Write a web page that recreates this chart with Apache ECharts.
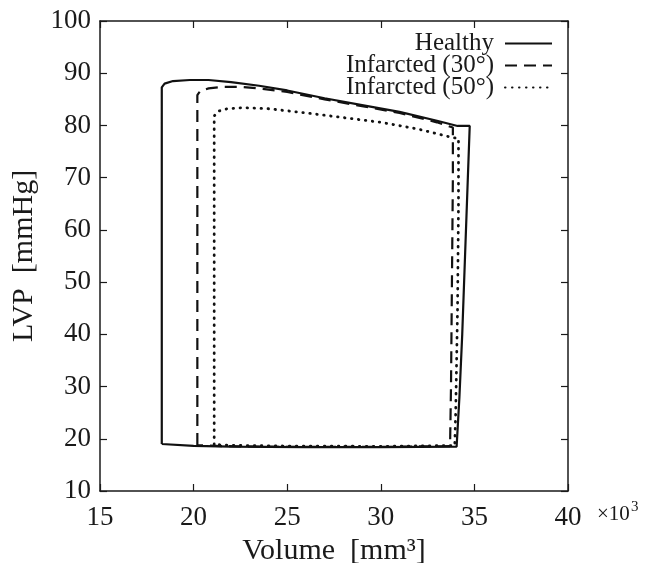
<!DOCTYPE html>
<html>
<head>
<meta charset="utf-8">
<script src="https://cdn.jsdelivr.net/npm/echarts@6/dist/echarts.min.js"></script>
<style>
  html, body { margin: 0; padding: 0; background: #fff; }
  #chart { width: 650px; height: 563px; }
</style>
</head>
<body>
<div id="chart"></div>
<script>
// volume in 10^3 mm^3, pressure in mmHg
var seriesNames = ['Healthy', 'Infarcted (30°)', 'Infarcted (50°)'];

var healthy = [
  [18.3, 19.0], [18.3, 87.3], [18.45, 88.0], [18.9, 88.5], [19.8, 88.7], [20.8, 88.7],
  [22.0, 88.3], [23.5, 87.6], [25.0, 86.7], [27.0, 85.2], [29.0, 83.9], [31.0, 82.6],
  [33.0, 80.9], [34.1, 79.9], [34.75, 79.9], [34.65, 70.0], [34.5, 55.0], [34.35, 40.0],
  [34.2, 28.0], [34.05, 18.5], [30.0, 18.4], [26.0, 18.4], [22.0, 18.5], [20.0, 18.65],
  [18.3, 19.0]
];

var infarct30 = [
  [20.2, 18.8], [20.2, 85.8], [20.35, 86.6], [20.8, 87.1], [21.6, 87.4], [22.5, 87.4],
  [23.5, 87.1], [25.0, 86.4], [27.0, 85.0], [29.0, 83.7], [31.0, 82.4], [33.0, 80.6],
  [33.85, 79.6], [33.85, 70.0], [33.8, 50.0], [33.75, 30.0], [33.7, 18.6], [30.0, 18.45],
  [25.0, 18.45], [21.5, 18.6], [20.2, 18.8]
];

var infarct50 = [
  [21.1, 18.9], [21.1, 81.8], [21.3, 82.7], [21.8, 83.2], [22.6, 83.4], [24.0, 83.2],
  [26.0, 82.4], [28.0, 81.5], [30.0, 80.6], [32.0, 79.3], [33.8, 77.7], [34.15, 77.5],
  [34.15, 65.0], [34.1, 45.0], [34.0, 25.0], [33.95, 18.7], [30.0, 18.55], [25.0, 18.6],
  [22.0, 18.75], [21.1, 18.9]
];

var xMin = 15, xMax = 40, xStep = 5;
var yMin = 10, yMax = 100, yStep = 10;

var serif = 'Liberation Serif';
var ink = '#1a1a1a';

var chart = echarts.init(document.getElementById('chart'), null, { renderer: 'canvas' });

function frameAxis (pos, showLabel) {
  return {
    type: 'value',
    position: pos,
    axisLine: { show: true, onZero: false, lineStyle: { color: ink, width: 1.5 } },
    axisTick: { show: true, inside: true, length: 7, lineStyle: { color: ink, width: 1.2 } },
    splitLine: { show: false },
    axisLabel: { show: showLabel, color: ink, fontFamily: serif, fontSize: 27, margin: 9 }
  }
}

var xBottom = Object.assign(frameAxis('bottom', true), {
  min: xMin, max: xMax, interval: xStep,
  name: 'Volume  [mm³]', nameLocation: 'middle', nameGap: 31,
  nameTextStyle: { color: ink, fontFamily: serif, fontSize: 30 }
});
xBottom.axisLabel.margin = 13;
var xTop = Object.assign(frameAxis('top', false), { min: xMin, max: xMax, interval: xStep });
var yLeft = Object.assign(frameAxis('left', true), {
  min: yMin, max: yMax, interval: yStep,
  name: 'LVP  [mmHg]', nameLocation: 'middle', nameGap: 57,
  nameTextStyle: { color: ink, fontFamily: serif, fontSize: 30 }
});
var yRight = Object.assign(frameAxis('right', false), { min: yMin, max: yMax, interval: yStep });

var option = {
  animation: false,
  backgroundColor: '#fff',
  grid: { left: 100, right: 82, top: 21, bottom: 72, containLabel: false, outerBoundsMode: 'none' },
  xAxis: [xBottom, xTop],
  yAxis: [yLeft, yRight],
  legend: {
    data: seriesNames,
    orient: 'vertical',
    align: 'right',
    right: 97,
    top: 31,
    padding: 0,
    itemWidth: 47,
    itemHeight: 14,
    itemGap: -3,
    itemStyle: { opacity: 0 },
    textStyle: { color: ink, fontFamily: serif, fontSize: 25, padding: [0, 6, 0, 0] }
  },
  graphic: [{
    type: 'text',
    x: 597,
    y: 514,
    style: { text: '×10', fill: ink, fontFamily: serif, fontSize: 21, verticalAlign: 'middle' }
  }, {
    type: 'text',
    x: 631,
    y: 507,
    style: { text: '3', fill: ink, fontFamily: serif, fontSize: 15, verticalAlign: 'middle' }
  }],
  series: [{
    name: seriesNames[0],
    type: 'line',
    data: healthy,
    symbol: 'none',
    lineStyle: { color: '#111', width: 2.2, type: 'solid' },
    itemStyle: { color: '#111' }
  }, {
    name: seriesNames[1],
    type: 'line',
    data: infarct30,
    symbol: 'none',
    lineStyle: { color: '#111', width: 2.2, type: [12, 7] },
    itemStyle: { color: '#111' }
  }, {
    name: seriesNames[2],
    type: 'line',
    data: infarct50,
    symbol: 'none',
    lineStyle: { color: '#111', width: 2.8, type: [0.5, 6.5], cap: 'round' },
    itemStyle: { color: '#111' }
  }]
};

chart.setOption(option);
</script>
</body>
</html>
